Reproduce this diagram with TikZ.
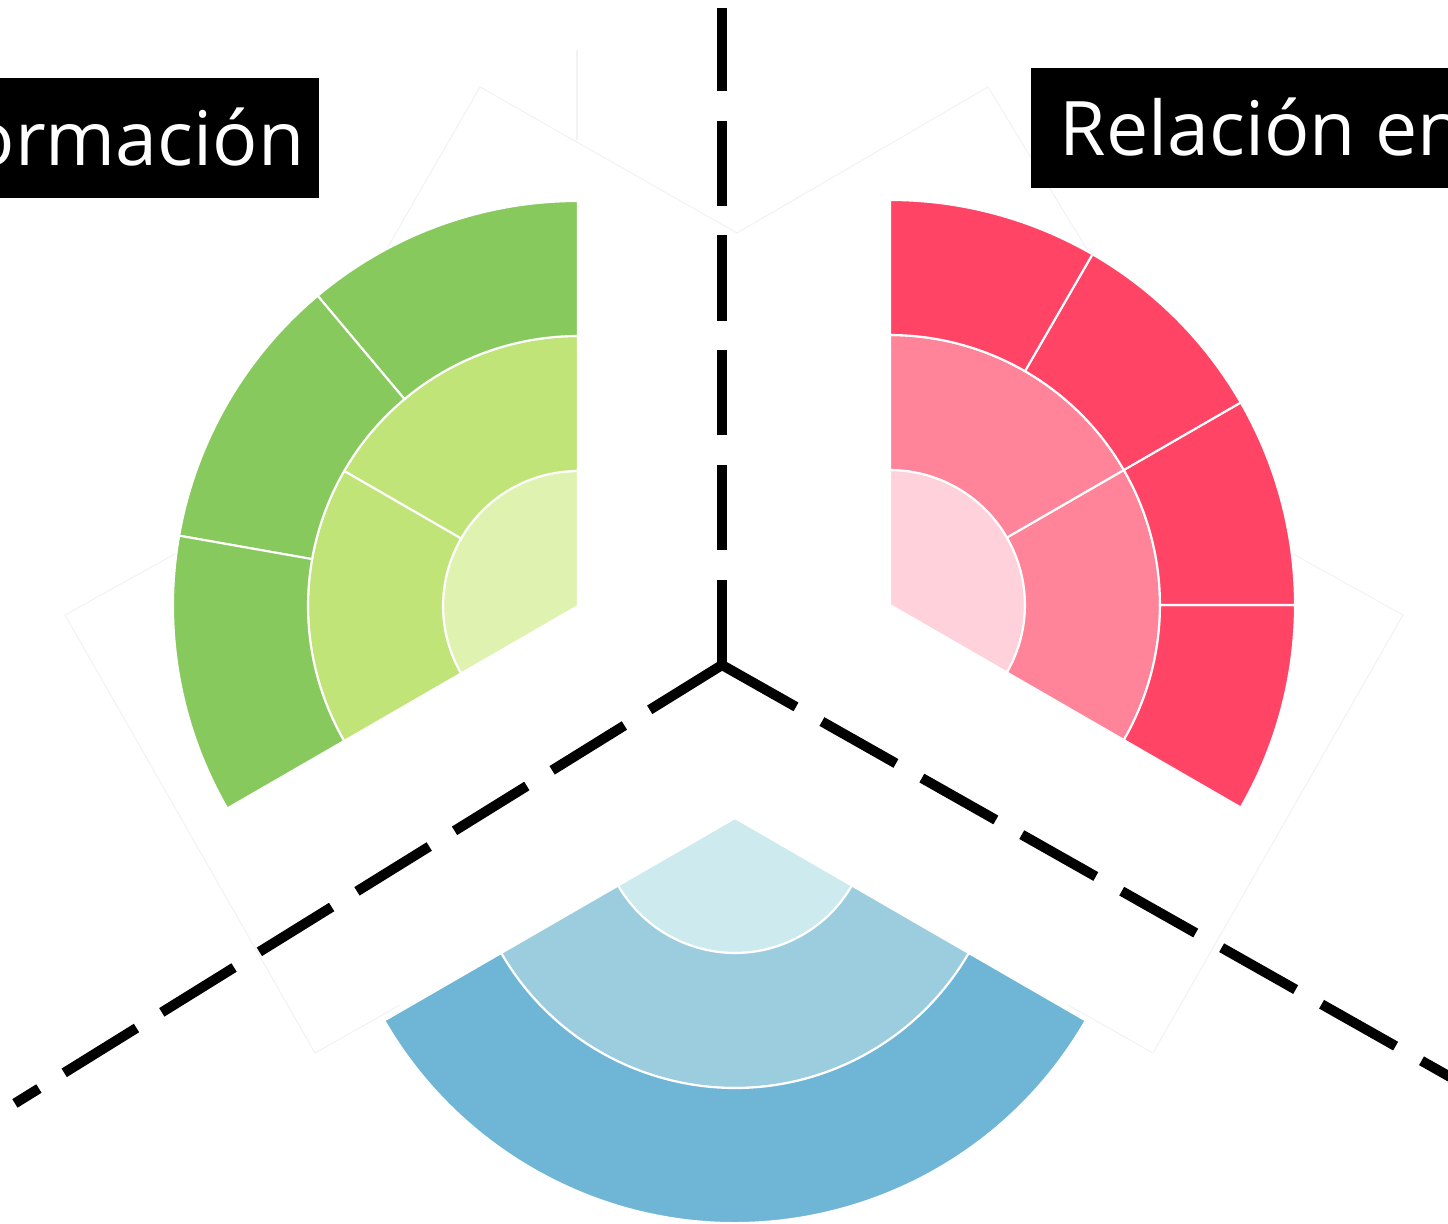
\documentclass[tikz,border=0pt]{standalone}
\usepackage{fontspec}
\setmainfont{Open Sans}
\usetikzlibrary{calc}

\definecolor{infoIn}{HTML}{E0F2B0}
\definecolor{infoMid}{HTML}{C0E477}
\definecolor{infoOut}{HTML}{88C95D}
\definecolor{relIn}{HTML}{FFD2DB}
\definecolor{relMid}{HTML}{FF8499}
\definecolor{relOut}{HTML}{FF4466}
\definecolor{baseIn}{HTML}{CDEBEE}
\definecolor{baseMid}{HTML}{9CCDDE}
\definecolor{baseOut}{HTML}{6EB5D6}

\begin{document}
\begin{tikzpicture}[x=0.01cm, y=0.01cm,
    % sunburst pieces
    piece/.style={draw=white, line width=0.6pt},
    % dashed dividers from the hub
    divider/.style={line width=1mm, dash pattern=on 8.5mm off 2.975mm},
    % faint frames behind the charts
    frame/.style={draw=black!5, line width=0.3pt},
    % black title tags
    tag/.style={fill=black, text=white, font=\fontsize{21.4}{24}\selectfont,
                minimum height=1.2cm, text height=0.55cm, text depth=0pt, inner xsep=2mm}
]

\useasboundingbox (-722,-559) rectangle (726,665);
\clip (-722,-559) rectangle (726,665);

% Faint frames
\draw[frame] (-145,615) -- (-145,525);
\draw[frame] (-382,335) -- (-242,578) -- (15,432) -- (266,578) -- (408,345);
\draw[frame] (-522,125) -- (-657,50) -- (-407,-388) -- (-322,-340);
\draw[frame] (546,125) -- (681,50) -- (431,-388) -- (346,-340);

% Chart centres
\coordinate (info) at (-144,59);
\coordinate (rel) at (168,60);
\coordinate (base) at (13,-153);

% Rings
\foreach \c/\ri/\ro/\a/\b/\col in {
    info/0/135/90/210/infoIn,
    info/135/270/90/150/infoMid, info/135/270/150/210/infoMid,
    info/270/405/90/130/infoOut, info/270/405/130/170/infoOut, info/270/405/170/210/infoOut,
    rel/0/135/-30/90/relIn,
    rel/135/270/-30/30/relMid, rel/135/270/30/90/relMid,
    rel/270/405/-30/0/relOut, rel/270/405/0/30/relOut,
    rel/270/405/30/60/relOut, rel/270/405/60/90/relOut,
    base/0/135/210/330/baseIn,
    base/135/270/210/330/baseMid,
    base/270/405/210/330/baseOut} {
  \path[piece, fill=\col] ($(\c)+(\a:\ri)$) arc[start angle=\a, end angle=\b, radius=\ri]
    -- ($(\c)+(\b:\ro)$) arc[start angle=\b, end angle=\a, radius=\ro] -- cycle;
}

% Dividers
\coordinate (hub) at (0,0);
\coordinate (upend) at (90:657);
\coordinate (leftend) at (211.8:832);
\coordinate (rightend) at (-29.5:1000);
\draw[divider] (hub) -- (upend);
\draw[divider] (hub) -- (leftend);
\draw[divider] (hub) -- (rightend);

% Titles
\node[tag, anchor=north east, inner xsep=1.5mm] (infotag) at (-402,588) {ormación};
\node[tag, anchor=north west, inner xsep=2.9mm] (reltag) at (308,598) {Relación en};

\end{tikzpicture}
\end{document}
